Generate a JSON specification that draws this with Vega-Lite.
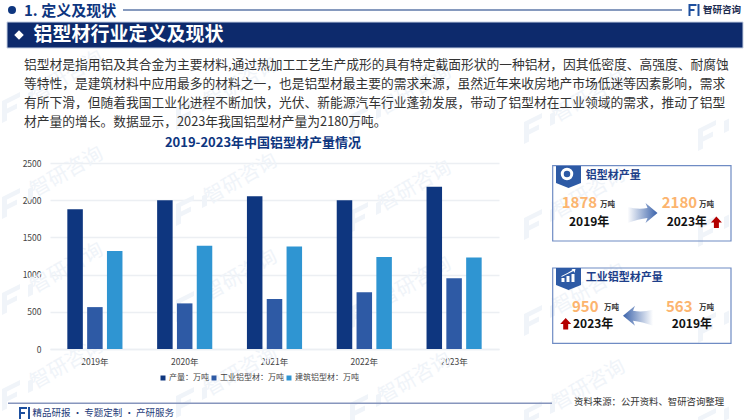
{"$schema":"https://vega.github.io/schema/vega-lite/v6.json","width":449,"height":186,"autosize":{"type":"none"},"padding":{"left":50,"top":163,"right":251,"bottom":71},"background":"#ffffff","config":{"font":"Noto Sans CJK SC","view":{"stroke":null}},
"data":{"values":[
{"year":"2019年","series":"产量：万吨","value":1878},{"year":"2019年","series":"工业铝型材：万吨","value":563},{"year":"2019年","series":"建筑铝型材：万吨","value":1318},
{"year":"2020年","series":"产量：万吨","value":2000},{"year":"2020年","series":"工业铝型材：万吨","value":613},{"year":"2020年","series":"建筑铝型材：万吨","value":1387},
{"year":"2021年","series":"产量：万吨","value":2052},{"year":"2021年","series":"工业铝型材：万吨","value":672},{"year":"2021年","series":"建筑铝型材：万吨","value":1378},
{"year":"2022年","series":"产量：万吨","value":2000},{"year":"2022年","series":"工业铝型材：万吨","value":762},{"year":"2022年","series":"建筑铝型材：万吨","value":1238},
{"year":"2023年","series":"产量：万吨","value":2180},{"year":"2023年","series":"工业铝型材：万吨","value":950},{"year":"2023年","series":"建筑铝型材：万吨","value":1230}]},
"layer":[
{"data":{"values":[{}]},"mark":{"type":"point","filled":true,"opacity":1,"size":4,"x":0,"y":0,"fill":"#f0f4f9","strokeWidth":0,"shape":"M-48 -62 l18 -9 v5 l-13 6.5 v5 l10 -5 v5 l-10 5 v7 l-5 2.5 z m26 -8 l5 -2.5 v12 l-5 2.5 z M-48 34 l18 -9 v5 l-13 6.5 v5 l10 -5 v5 l-10 5 v7 l-5 2.5 z m26 -8 l5 -2.5 v12 l-5 2.5 z M-48 130 l18 -9 v5 l-13 6.5 v5 l10 -5 v5 l-10 5 v7 l-5 2.5 z m26 -8 l5 -2.5 v12 l-5 2.5 z M-48 226 l18 -9 v5 l-13 6.5 v5 l10 -5 v5 l-10 5 v7 l-5 2.5 z m26 -8 l5 -2.5 v12 l-5 2.5 z M126 -55 l18 -9 v5 l-13 6.5 v5 l10 -5 v5 l-10 5 v7 l-5 2.5 z m26 -8 l5 -2.5 v12 l-5 2.5 z M126 41 l18 -9 v5 l-13 6.5 v5 l10 -5 v5 l-10 5 v7 l-5 2.5 z m26 -8 l5 -2.5 v12 l-5 2.5 z M126 137 l18 -9 v5 l-13 6.5 v5 l10 -5 v5 l-10 5 v7 l-5 2.5 z m26 -8 l5 -2.5 v12 l-5 2.5 z M126 233 l18 -9 v5 l-13 6.5 v5 l10 -5 v5 l-10 5 v7 l-5 2.5 z m26 -8 l5 -2.5 v12 l-5 2.5 z M300 -48 l18 -9 v5 l-13 6.5 v5 l10 -5 v5 l-10 5 v7 l-5 2.5 z m26 -8 l5 -2.5 v12 l-5 2.5 z M300 48 l18 -9 v5 l-13 6.5 v5 l10 -5 v5 l-10 5 v7 l-5 2.5 z m26 -8 l5 -2.5 v12 l-5 2.5 z M300 144 l18 -9 v5 l-13 6.5 v5 l10 -5 v5 l-10 5 v7 l-5 2.5 z m26 -8 l5 -2.5 v12 l-5 2.5 z M300 240 l18 -9 v5 l-13 6.5 v5 l10 -5 v5 l-10 5 v7 l-5 2.5 z m26 -8 l5 -2.5 v12 l-5 2.5 z M474 -41 l18 -9 v5 l-13 6.5 v5 l10 -5 v5 l-10 5 v7 l-5 2.5 z m26 -8 l5 -2.5 v12 l-5 2.5 z M474 55 l18 -9 v5 l-13 6.5 v5 l10 -5 v5 l-10 5 v7 l-5 2.5 z m26 -8 l5 -2.5 v12 l-5 2.5 z M474 151 l18 -9 v5 l-13 6.5 v5 l10 -5 v5 l-10 5 v7 l-5 2.5 z m26 -8 l5 -2.5 v12 l-5 2.5 z M474 247 l18 -9 v5 l-13 6.5 v5 l10 -5 v5 l-10 5 v7 l-5 2.5 z m26 -8 l5 -2.5 v12 l-5 2.5 z M648 -34 l18 -9 v5 l-13 6.5 v5 l10 -5 v5 l-10 5 v7 l-5 2.5 z m26 -8 l5 -2.5 v12 l-5 2.5 z M648 62 l18 -9 v5 l-13 6.5 v5 l10 -5 v5 l-10 5 v7 l-5 2.5 z m26 -8 l5 -2.5 v12 l-5 2.5 z M648 158 l18 -9 v5 l-13 6.5 v5 l10 -5 v5 l-10 5 v7 l-5 2.5 z m26 -8 l5 -2.5 v12 l-5 2.5 z M648 254 l18 -9 v5 l-13 6.5 v5 l10 -5 v5 l-10 5 v7 l-5 2.5 z m26 -8 l5 -2.5 v12 l-5 2.5 z"},"encoding":{}},
{"data":{"values":[{"t":"智研咨询"}]},"mark":{"type":"text","x":17,"y":-87,"angle":330,"fontSize":20,"fill":"#f0f4f9","baseline":"middle"},"encoding":{"text":{"field":"t"}}},
{"data":{"values":[{"t":"智研咨询"}]},"mark":{"type":"text","x":17,"y":9,"angle":330,"fontSize":20,"fill":"#f0f4f9","baseline":"middle"},"encoding":{"text":{"field":"t"}}},
{"data":{"values":[{"t":"智研咨询"}]},"mark":{"type":"text","x":17,"y":105,"angle":330,"fontSize":20,"fill":"#f0f4f9","baseline":"middle"},"encoding":{"text":{"field":"t"}}},
{"data":{"values":[{"t":"智研咨询"}]},"mark":{"type":"text","x":17,"y":201,"angle":330,"fontSize":20,"fill":"#f0f4f9","baseline":"middle"},"encoding":{"text":{"field":"t"}}},
{"data":{"values":[{"t":"智研咨询"}]},"mark":{"type":"text","x":191,"y":-80,"angle":330,"fontSize":20,"fill":"#f0f4f9","baseline":"middle"},"encoding":{"text":{"field":"t"}}},
{"data":{"values":[{"t":"智研咨询"}]},"mark":{"type":"text","x":191,"y":16,"angle":330,"fontSize":20,"fill":"#f0f4f9","baseline":"middle"},"encoding":{"text":{"field":"t"}}},
{"data":{"values":[{"t":"智研咨询"}]},"mark":{"type":"text","x":191,"y":112,"angle":330,"fontSize":20,"fill":"#f0f4f9","baseline":"middle"},"encoding":{"text":{"field":"t"}}},
{"data":{"values":[{"t":"智研咨询"}]},"mark":{"type":"text","x":191,"y":208,"angle":330,"fontSize":20,"fill":"#f0f4f9","baseline":"middle"},"encoding":{"text":{"field":"t"}}},
{"data":{"values":[{"t":"智研咨询"}]},"mark":{"type":"text","x":365,"y":-73,"angle":330,"fontSize":20,"fill":"#f0f4f9","baseline":"middle"},"encoding":{"text":{"field":"t"}}},
{"data":{"values":[{"t":"智研咨询"}]},"mark":{"type":"text","x":365,"y":23,"angle":330,"fontSize":20,"fill":"#f0f4f9","baseline":"middle"},"encoding":{"text":{"field":"t"}}},
{"data":{"values":[{"t":"智研咨询"}]},"mark":{"type":"text","x":365,"y":119,"angle":330,"fontSize":20,"fill":"#f0f4f9","baseline":"middle"},"encoding":{"text":{"field":"t"}}},
{"data":{"values":[{"t":"智研咨询"}]},"mark":{"type":"text","x":365,"y":215,"angle":330,"fontSize":20,"fill":"#f0f4f9","baseline":"middle"},"encoding":{"text":{"field":"t"}}},
{"data":{"values":[{"t":"智研咨询"}]},"mark":{"type":"text","x":539,"y":-66,"angle":330,"fontSize":20,"fill":"#f0f4f9","baseline":"middle"},"encoding":{"text":{"field":"t"}}},
{"data":{"values":[{"t":"智研咨询"}]},"mark":{"type":"text","x":539,"y":30,"angle":330,"fontSize":20,"fill":"#f0f4f9","baseline":"middle"},"encoding":{"text":{"field":"t"}}},
{"data":{"values":[{"t":"智研咨询"}]},"mark":{"type":"text","x":539,"y":126,"angle":330,"fontSize":20,"fill":"#f0f4f9","baseline":"middle"},"encoding":{"text":{"field":"t"}}},
{"data":{"values":[{"t":"智研咨询"}]},"mark":{"type":"text","x":539,"y":222,"angle":330,"fontSize":20,"fill":"#f0f4f9","baseline":"middle"},"encoding":{"text":{"field":"t"}}},
{"mark":{"type":"bar","cornerRadius":0},"encoding":{
"x":{"field":"year","type":"nominal","title":null,"scale":{"paddingInner":0.386,"paddingOuter":0.193},"axis":{"labelAngle":0,"labelFontSize":8.5,"labelColor":"#444444","labelPadding":8,"ticks":false,"domainColor":"#eceff3","domainWidth":1.5}},
"xOffset":{"field":"series","sort":["产量：万吨","工业铝型材：万吨","建筑铝型材：万吨"],"scale":{"paddingInner":0.217,"paddingOuter":0}},
"y":{"field":"value","type":"quantitative","title":null,"scale":{"domain":[0,2500],"nice":false},"axis":{"values":[0,500,1000,1500,2000,2500],"format":"d","labelFontSize":8.5,"labelColor":"#444444","labelPadding":9,"ticks":false,"domain":false,"gridColor":"#eceff3","gridWidth":1.5}},
"color":{"field":"series","type":"nominal","scale":{"domain":["产量：万吨","工业铝型材：万吨","建筑铝型材：万吨"],"range":["#0e367f","#2e5aa5","#2f95d2"]},"legend":{"title":null,"orient":"none","legendX":109,"legendY":211,"direction":"horizontal","symbolType":"square","symbolSize":25,"labelFontSize":8,"labelColor":"#444444","labelOffset":2,"columnPadding":1,"columns":3,"gridAlign":"none"}}}},
{"data":{"values":[{}]},"mark":{"type":"text","x":213,"y":-20,"text":"2019-2023年中国铝型材产量情况","fontSize":13,"fontWeight":"bold","fill":"#0e367f","align":"center","baseline":"middle"},"encoding":{}},
{"data":{"values":[{}]},"mark":{"type":"point","filled":true,"opacity":1,"x":-38,"y":-153,"size":64,"shape":"circle","fill":"#0e367f"},"encoding":{}},
{"data":{"values":[{}]},"mark":{"type":"text","x":-26,"y":-152,"text":"1. 定义及现状","fontSize":15,"fontWeight":"bold","fill":"#0e367f","align":"left","baseline":"middle"},"encoding":{}},
{"data":{"values":[{}]},"mark":{"type":"rect","x":73,"x2":632,"y":-153.5,"y2":-152.5,"fill":"#0e367f"},"encoding":{}},
{"data":{"values":[{}]},"mark":{"type":"point","filled":true,"opacity":1,"x":643.5,"y":-153,"size":4,"fill":"#1d4f9e","strokeWidth":0,"shape":"M-5 -6 H3 V-4 H-3 V-1 H1 V1 H-3 V6 H-5 Z M4 -6 H6 V6 H4 Z"},"encoding":{}},
{"data":{"values":[{}]},"mark":{"type":"text","x":653,"y":-153,"text":"智研咨询","fontSize":9.5,"fontWeight":"bold","fill":"#1d2b4f","align":"left","baseline":"middle"},"encoding":{}},
{"data":{"values":[{}]},"mark":{"type":"rect","x":-43,"x2":693,"y":-141,"y2":-115,"fill":"#0d2a6c","stroke":"#c7d1e4","strokeWidth":1},"encoding":{}},
{"data":{"values":[{}]},"mark":{"type":"point","filled":true,"opacity":1,"x":-31,"y":-128,"size":90,"shape":"diamond","fill":"#ffffff"},"encoding":{}},
{"data":{"values":[{}]},"mark":{"type":"text","x":-16.5,"y":-128,"text":"铝型材行业定义及现状","fontSize":19,"fontWeight":"bold","fill":"#ffffff","align":"left","baseline":"middle"},"encoding":{}},
{"data":{"values":[{}]},"mark":{"type":"text","x":-26,"y":-98,"text":"铝型材是指用铝及其合金为主要材料,通过热加工工艺生产成形的具有特定截面形状的一种铝材，因其低密度、高强度、耐腐蚀","fontSize":12.75,"fill":"#333333","align":"left","baseline":"middle"},"encoding":{}},
{"data":{"values":[{}]},"mark":{"type":"text","x":-26,"y":-79,"text":"等特性，是建筑材料中应用最多的材料之一，也是铝型材最主要的需求来源，虽然近年来收房地产市场低迷等因素影响，需求","fontSize":12.75,"fill":"#333333","align":"left","baseline":"middle"},"encoding":{}},
{"data":{"values":[{}]},"mark":{"type":"text","x":-26,"y":-60,"text":"有所下滑，但随着我国工业化进程不断加快，光伏、新能源汽车行业蓬勃发展，带动了铝型材在工业领域的需求，推动了铝型","fontSize":12.75,"fill":"#333333","align":"left","baseline":"middle"},"encoding":{}},
{"data":{"values":[{}]},"mark":{"type":"text","x":-26,"y":-41,"text":"材产量的增长。数据显示，2023年我国铝型材产量为2180万吨。","fontSize":12.75,"fill":"#333333","align":"left","baseline":"middle"},"encoding":{}},
{"data":{"values":[{}]},"mark":{"type":"rect","x":502.7,"x2":681,"y":2.7,"y2":78,"fill":"transparent","stroke":"#6f8cc4","strokeWidth":1.2},"encoding":{}},
{"data":{"values":[{}]},"mark":{"type":"point","filled":true,"opacity":1,"x":518.5,"y":14,"size":4,"fill":"#2d5aa5","strokeWidth":0,"shape":"M-12.5 -11 H12.5 V6 L0 11 L-12.5 6 Z"},"encoding":{}},
{"data":{"values":[{}]},"mark":{"type":"point","filled":false,"opacity":1,"x":517,"y":11,"size":90,"shape":"circle","stroke":"#ffffff","strokeWidth":3},"encoding":{}},
{"data":{"values":[{}]},"mark":{"type":"text","x":535.7,"y":13,"text":"铝型材产量","fontSize":11,"fontWeight":"bold","fill":"#1d3f8a","align":"left","baseline":"middle"},"encoding":{}},
{"data":{"values":[{}]},"mark":{"type":"text","x":511.7,"y":40,"text":"1878","fontSize":15,"fontWeight":"bold","fill":"#fcb46e","align":"left","baseline":"middle"},"encoding":{}},
{"data":{"values":[{}]},"mark":{"type":"text","x":550,"y":42,"text":"万吨","fontSize":7.5,"fontWeight":"bold","fill":"#333333","align":"left","baseline":"middle"},"encoding":{}},
{"data":{"values":[{}]},"mark":{"type":"text","x":519,"y":59,"text":"2019年","fontSize":12,"fontWeight":"bold","fill":"#111111","align":"left","baseline":"middle"},"encoding":{}},
{"data":{"values":[{}]},"mark":{"type":"point","filled":true,"opacity":1,"x":592.5,"y":50,"size":4,"strokeWidth":0,"shape":"M-15 -6 Q-4 -3 5 -5 L3 -10 L15 0 L3 10 L5 5 Q-4 6 -15 10 Z","fill":{"gradient":"linear","x1":0,"y1":0,"x2":1,"y2":0,"stops":[{"offset":0,"color":"#ffffff"},{"offset":1,"color":"#3a62aa"}]}},"encoding":{}},
{"data":{"values":[{}]},"mark":{"type":"text","x":611.7,"y":40,"text":"2180","fontSize":15,"fontWeight":"bold","fill":"#fcb46e","align":"left","baseline":"middle"},"encoding":{}},
{"data":{"values":[{}]},"mark":{"type":"text","x":649,"y":42,"text":"万吨","fontSize":7.5,"fontWeight":"bold","fill":"#333333","align":"left","baseline":"middle"},"encoding":{}},
{"data":{"values":[{}]},"mark":{"type":"text","x":616.7,"y":59,"text":"2023年","fontSize":12,"fontWeight":"bold","fill":"#111111","align":"left","baseline":"middle"},"encoding":{}},
{"data":{"values":[{}]},"mark":{"type":"point","filled":true,"opacity":1,"x":666.4,"y":59.5,"size":4,"strokeWidth":0,"fill":"#b30000","shape":"M0 -6 L5.5 0 L2.5 0 L2.5 5.5 L-2.5 5.5 L-2.5 0 L-5.5 0 Z"},"encoding":{}},
{"data":{"values":[{}]},"mark":{"type":"rect","x":502.7,"x2":681,"y":105,"y2":180.3,"fill":"transparent","stroke":"#6f8cc4","strokeWidth":1.2},"encoding":{}},
{"data":{"values":[{}]},"mark":{"type":"point","filled":true,"opacity":1,"x":518.5,"y":116,"size":4,"fill":"#2d5aa5","strokeWidth":0,"shape":"M-12.5 -11 H12.5 V6 L0 11 L-12.5 6 Z"},"encoding":{}},
{"data":{"values":[{}]},"mark":{"type":"point","filled":true,"opacity":1,"x":518.5,"y":114,"size":4,"fill":"#ffffff","strokeWidth":0,"shape":"M-7 5 V1 H-4 V5 Z M-2 5 V-1 H1 V5 Z M3 5 V-3 H6 V5 Z M-7 -1 L-1 -4 L4 -7 L3 -8 L7 -8 L6 -4 L5 -6 L-1 -3 L-7 0 Z"},"encoding":{}},
{"data":{"values":[{}]},"mark":{"type":"text","x":535.7,"y":115,"text":"工业铝型材产量","fontSize":11,"fontWeight":"bold","fill":"#1d3f8a","align":"left","baseline":"middle"},"encoding":{}},
{"data":{"values":[{}]},"mark":{"type":"text","x":522,"y":143.7,"text":"950","fontSize":15,"fontWeight":"bold","fill":"#fcb46e","align":"left","baseline":"middle"},"encoding":{}},
{"data":{"values":[{}]},"mark":{"type":"text","x":554,"y":144.7,"text":"万吨","fontSize":7.5,"fontWeight":"bold","fill":"#333333","align":"left","baseline":"middle"},"encoding":{}},
{"data":{"values":[{}]},"mark":{"type":"text","x":616,"y":144,"text":"563","fontSize":15,"fontWeight":"bold","fill":"#fcb46e","align":"left","baseline":"middle"},"encoding":{}},
{"data":{"values":[{}]},"mark":{"type":"text","x":649,"y":144.7,"text":"万吨","fontSize":7.5,"fontWeight":"bold","fill":"#333333","align":"left","baseline":"middle"},"encoding":{}},
{"data":{"values":[{}]},"mark":{"type":"point","filled":true,"opacity":1,"x":588,"y":152.7,"size":4,"strokeWidth":0,"shape":"M15 -6 Q4 -3 -5 -5 L-3 -10 L-15 0 L-3 10 L-5 5 Q4 6 15 10 Z","fill":{"gradient":"linear","x1":1,"y1":0,"x2":0,"y2":0,"stops":[{"offset":0,"color":"#ffffff"},{"offset":1,"color":"#3a62aa"}]}},"encoding":{}},
{"data":{"values":[{}]},"mark":{"type":"point","filled":true,"opacity":1,"x":515.7,"y":161,"size":4,"strokeWidth":0,"fill":"#b30000","shape":"M0 -6 L5.5 0 L2.5 0 L2.5 5.5 L-2.5 5.5 L-2.5 0 L-5.5 0 Z"},"encoding":{}},
{"data":{"values":[{}]},"mark":{"type":"text","x":523,"y":161.3,"text":"2023年","fontSize":12,"fontWeight":"bold","fill":"#111111","align":"left","baseline":"middle"},"encoding":{}},
{"data":{"values":[{}]},"mark":{"type":"text","x":621.7,"y":161.3,"text":"2019年","fontSize":12,"fontWeight":"bold","fill":"#111111","align":"left","baseline":"middle"},"encoding":{}},
{"data":{"values":[{}]},"mark":{"type":"rect","x":-42,"x2":502,"y":239.5,"y2":241,"fill":"#8796bd"},"encoding":{}},
{"data":{"values":[{}]},"mark":{"type":"point","filled":true,"opacity":1,"x":-26,"y":250,"size":4,"fill":"#1d4f9e","strokeWidth":0,"shape":"M-5 -6 H3 V-4 H-3 V-1 H1 V1 H-3 V6 H-5 Z M4 -6 H6 V6 H4 Z"},"encoding":{}},
{"data":{"values":[{}]},"mark":{"type":"text","x":-17.5,"y":250,"text":"精品研报 · 专题定制 · 产研服务","fontSize":9.5,"fill":"#1f3c7a","align":"left","baseline":"middle"},"encoding":{}},
{"data":{"values":[{}]},"mark":{"type":"text","x":524,"y":239,"text":"资料来源：公开资料、智研咨询整理","fontSize":9.4,"fill":"#333333","align":"left","baseline":"middle"},"encoding":{}}
]}
